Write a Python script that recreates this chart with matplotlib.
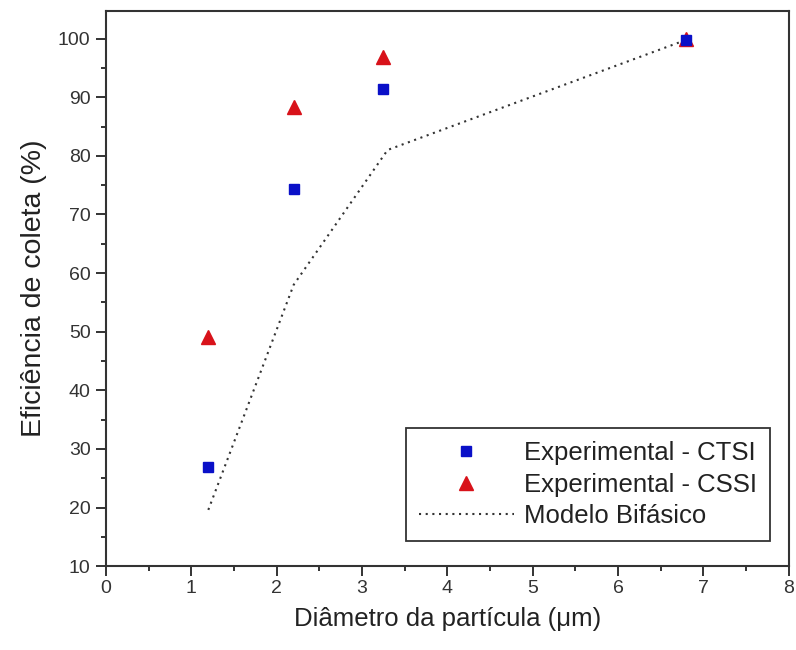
import matplotlib
matplotlib.use("Agg")
import matplotlib.pyplot as plt
from matplotlib.ticker import MultipleLocator

plt.rcParams["font.family"] = ["Liberation Sans", "DejaVu Sans"]

diameter = [1.2, 2.2, 3.25, 6.8]
ctsi = [27.0, 74.3, 91.4, 99.8]
cssi = [49.1, 88.3, 96.9, 100.0]
model_x = [1.2, 2.2, 3.3, 6.8]
model_y = [19.6, 58.0, 81.0, 99.8]

fig = plt.figure(figsize=(7.96, 6.5), dpi=100)
ax = fig.add_axes([0.133, 0.129, 0.858, 0.854])

ax.plot(model_x, model_y, linestyle=(0, (1, 2.2)), color="#333333", linewidth=1.5,
        label="Modelo Bifásico", zorder=1)
ax.plot(diameter, ctsi, linestyle="none", marker="s", markersize=7,
        color="#0a10c8", label="Experimental - CTSI", zorder=3)
ax.plot(diameter, cssi, linestyle="none", marker="^", markersize=9.5,
        color="#d8121a", label="Experimental - CSSI", zorder=2)

ax.set_xlim(0, 8)
ax.set_ylim(10, 104.7)
ax.xaxis.set_major_locator(MultipleLocator(1))
ax.xaxis.set_minor_locator(MultipleLocator(0.5))
ax.yaxis.set_major_locator(MultipleLocator(10))
ax.yaxis.set_minor_locator(MultipleLocator(5))
ax.tick_params(which="both", direction="out", width=1.4, labelsize=14, colors="#333333")
ax.tick_params(which="major", length=7)
ax.tick_params(which="minor", length=3.5)
ax.tick_params(axis="x", which="major", pad=3)
ax.tick_params(axis="y", which="major", pad=4)
for s in ax.spines.values():
    s.set_linewidth(1.5)
    s.set_color("#333333")

ax.set_xlabel("Diâmetro da partícula (μm)", fontsize=18.5, labelpad=7, color="#222222")
ax.set_ylabel("Eficiência de coleta (%)", fontsize=20.5, labelpad=8, color="#222222")

handles, labels = ax.get_legend_handles_labels()
order = [1, 2, 0]
leg = ax.legend([handles[i] for i in order], [labels[i] for i in order],
                loc="lower right", bbox_to_anchor=(0.972, 0.045), fontsize=18.5,
                fancybox=False, edgecolor="#333333", framealpha=1,
                handlelength=3.7, handletextpad=0.4, labelspacing=0.3,
                borderpad=0.5, borderaxespad=0)
leg.get_frame().set_linewidth(1.3)
for t in leg.get_texts():
    t.set_color("#222222")

fig.savefig("out.png", dpi=100)
